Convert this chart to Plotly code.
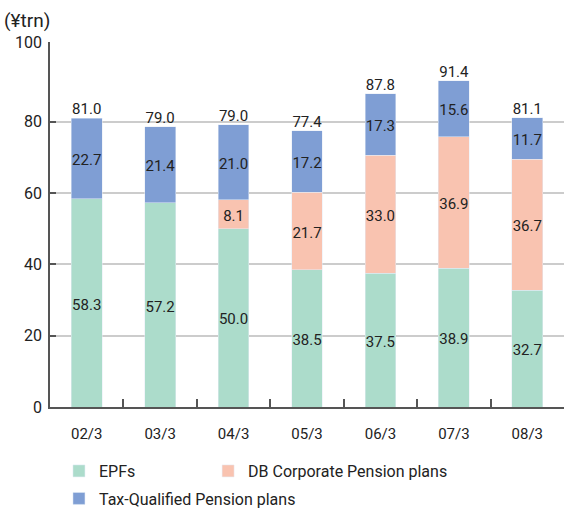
import plotly.graph_objects as go

categories = ["02/3", "03/3", "04/3", "05/3", "06/3", "07/3", "08/3"]
epfs = [58.3, 57.2, 50.0, 38.5, 37.5, 38.9, 32.7]
db_plans = [None, None, 8.1, 21.7, 33.0, 36.9, 36.7]
tax_plans = [22.7, 21.4, 21.0, 17.2, 17.3, 15.6, 11.7]
totals = [81.0, 79.0, 79.0, 77.4, 87.8, 91.4, 81.1]
y_tick_labels = ["0", "20", "40", "60", "80", "100"]

FONT = "Roboto"
TXT = "#222222"
# the source chart draws its "100" line slightly above the data-scale position
Y_TOP = 102.3

def fmt(v):
    return f"{v:.1f}"

fig = go.Figure()
fig.add_trace(go.Bar(x=categories, y=epfs, name="EPFs", marker_color="#acdccb",
                     textposition="none", legend="legend", hoverinfo="skip"))
fig.add_trace(go.Bar(x=categories, y=db_plans, name="DB Corporate Pension plans",
                     marker_color="#f9c3b0", textposition="none", legend="legend3",
                     hoverinfo="skip"))
fig.add_trace(go.Bar(x=categories, y=tax_plans, name="Tax-Qualified Pension plans",
                     marker_color="#7f9ed4", textposition="none", legend="legend2",
                     hoverinfo="skip"))

# segment labels at segment midpoints
lx, ly, lt = [], [], []
for c, e, d, t in zip(categories, epfs, db_plans, tax_plans):
    base = 0.0
    for v in (e, d, t):
        if v is None:
            continue
        lx.append(c); ly.append(base + v / 2 - 0.8); lt.append(fmt(v))
        base += v
fig.add_trace(go.Scatter(x=lx, y=ly, mode="text", text=lt, textposition="middle center",
                         textfont=dict(family=FONT, size=15, color=TXT),
                         showlegend=False, hoverinfo="skip", cliponaxis=False))

bar_tops = [e + (d or 0) + t for e, d, t in zip(epfs, db_plans, tax_plans)]
fig.add_trace(go.Scatter(x=categories, y=bar_tops, mode="text",
                         text=[fmt(v) for v in totals], textposition="top center",
                         textfont=dict(family=FONT, size=15, color=TXT),
                         showlegend=False, hoverinfo="skip", cliponaxis=False))

tick_vals = [20 * i for i in range(len(y_tick_labels) - 1)] + [Y_TOP]

legend_common = dict(orientation="h", xref="container", yref="container",
                     xanchor="left", yanchor="top", itemwidth=30,
                     font=dict(family=FONT, size=16, color=TXT))

fig.update_layout(
    width=567, height=509,
    barmode="stack", bargap=0.58,
    plot_bgcolor="white", paper_bgcolor="white",
    margin=dict(l=50, r=3, t=42, b=102, autoexpand=False),
    font=dict(family=FONT, size=15, color=TXT),
    legend=dict(x=0.104, y=0.108, **legend_common),
    legend3=dict(x=0.367, y=0.108, **legend_common),
    legend2=dict(x=0.104, y=0.054, **legend_common),
    annotations=[dict(text="(¥trn)", xref="paper", yref="paper", x=-0.093,
                      y=1.058, xanchor="left", yanchor="middle", showarrow=False,
                      font=dict(family=FONT, size=19, color=TXT))],
)
fig.update_xaxes(type="category", showline=True, linecolor="#555555", linewidth=1.5,
                 ticks="inside", tickson="boundaries", ticklen=8, tickcolor="#555555",
                 tickwidth=1.5, showgrid=False, ticklabelstandoff=12, automargin=False,
                 tickfont=dict(family=FONT, size=15, color=TXT))
fig.update_yaxes(range=[0, Y_TOP], tickvals=tick_vals, ticktext=y_tick_labels,
                 showline=True, linecolor="#555555", tickwidth=1.5,
                 linewidth=1.5, ticks="inside", ticklen=6, tickcolor="#555555",
                 showgrid=True, gridcolor="#cccccc", gridwidth=1.5, zeroline=False,
                 ticklabelstandoff=3, automargin=False,
                 tickfont=dict(family=FONT, size=16, color=TXT))

fig.write_html("out.html", config={"displayModeBar": False},
               post_script="document.body.style.margin='0';")
